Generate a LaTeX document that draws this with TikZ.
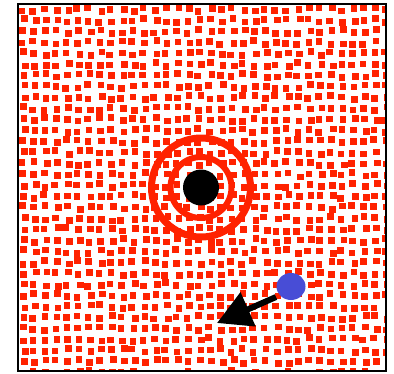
\documentclass[tikz,border=0pt]{standalone}
\usetikzlibrary{arrows.meta,shapes.geometric}
\definecolor{pred}{RGB}{255,34,0}
\definecolor{pblue}{RGB}{72,77,214}
\tikzset{
  sqdot/.style={fill=pred},
  ring/.style={draw=pred},
}
\begin{document}
\begin{tikzpicture}[x=1pt,y=-1pt]
\useasboundingbox (0,0) rectangle (394,373);
\fill[white] (0,0) rectangle (394,373);
\pgfmathsetseed{2024}
\begin{scope}
\clip (18,4) rectangle (386,371);
\foreach \i in {0,...,33}{
  \foreach \j in {0,...,33}{
    \pgfmathsetmacro\dx{4.5*rnd}
    \pgfmathsetmacro\dy{4.5*rnd}
    \fill[sqdot] (18+11*\i+\dx,4+11*\j+\dy) rectangle +(6.6,6.6);
  }
}
\end{scope}
\draw[line width=2pt] (18,4) rectangle (386,371);
\coordinate (c) at (201,187.5);
\draw[ring,line width=7pt] (c) circle (49.5);
\draw[ring,line width=6pt] (c) circle (30.5);
\fill[black] (c) circle (18);
\node[fill=pblue,ellipse,minimum width=29pt,minimum height=27pt,inner sep=0pt] (b) at (291,286.5) {};
\coordinate (s) at (276,297);
\coordinate (t) at (217,323);
\draw[line width=6pt,-{Triangle[length=34pt,width=36pt]}] (s) -- (t);
\end{tikzpicture}
\end{document}
